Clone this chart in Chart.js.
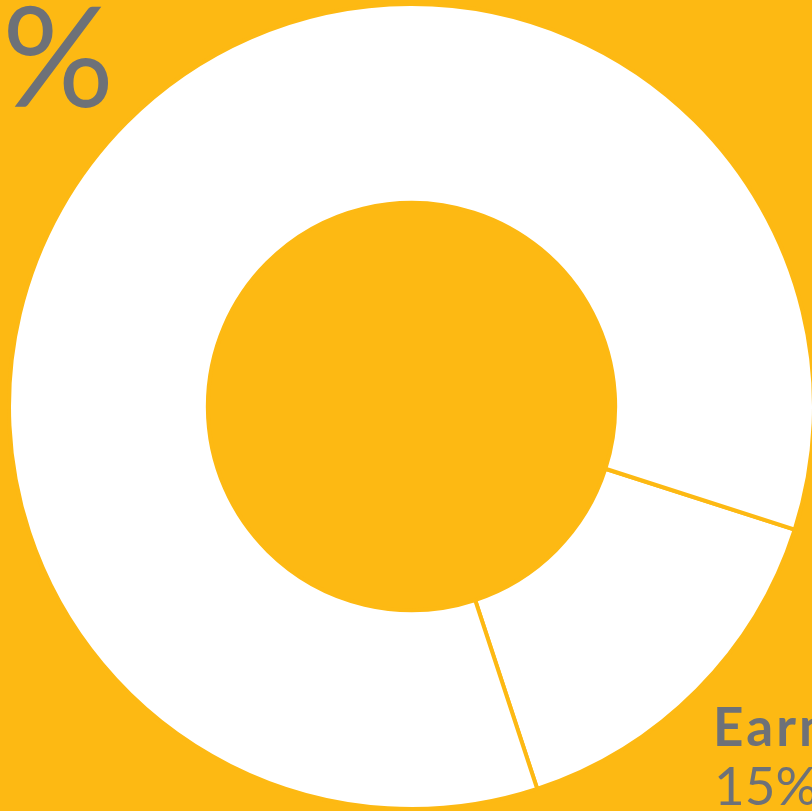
<!DOCTYPE html>
<html><head><meta charset="utf-8">
<script src="https://cdn.jsdelivr.net/npm/chart.js@4"></script>
<style>
html,body{margin:0;padding:0;width:812px;height:811px;overflow:hidden;background:#FDB913;}
#wrap{position:absolute;left:7px;top:2px;width:809px;height:809px;}
.t{position:absolute;font-family:Lato,sans-serif;color:#6D7178;white-space:nowrap;line-height:1;}
</style></head><body>
<div id="wrap"><canvas id="c"></canvas></div>
<div class="t" id="pct" style="left:2px;top:-17px;font-size:140px;">%</div>
<div class="t" style="left:713px;top:699px;font-size:53px;font-weight:bold;letter-spacing:3px;">Earn</div>
<div class="t" style="left:714px;top:758px;font-size:53px;">15%</div>
<script>
const categories = ["Earn", "Other"];
const values = [15, 85];
const sliceColors = ["#FFFFFF", "#FFFFFF"];
new Chart(document.getElementById('c'), {
  type: 'doughnut',
  data: { labels: categories, datasets: [{ data: values, backgroundColor: sliceColors, borderColor: '#FDB913', borderWidth: 4, hoverOffset: 0 }] },
  options: {
    responsive: true, maintainAspectRatio: false, animation: false,
    rotation: 107.8, cutout: '50.6%',
    layout: { padding: 0 },
    events: [],
    plugins: { legend: { display: false }, tooltip: { enabled: false } }
  }
});
</script>
</body></html>
